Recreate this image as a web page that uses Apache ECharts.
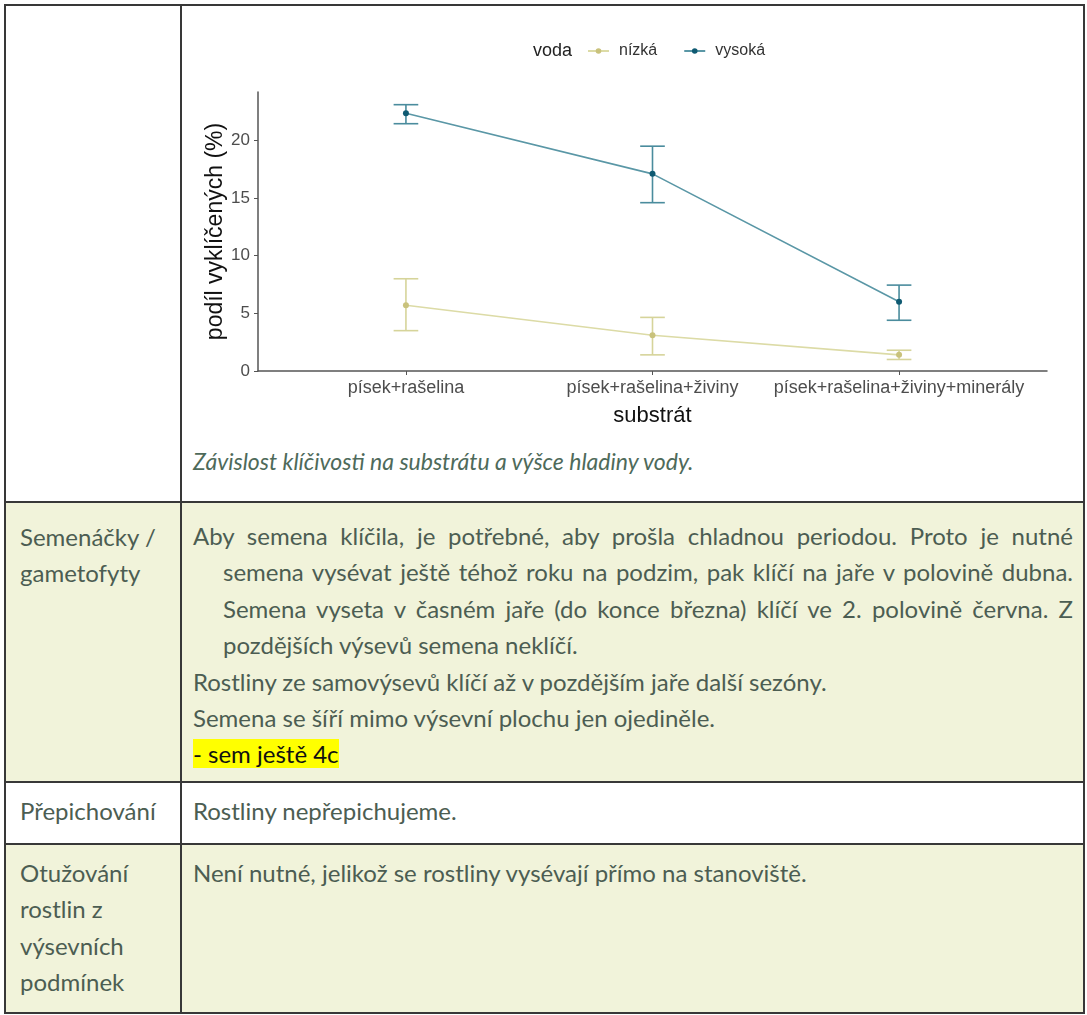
<!DOCTYPE html>
<html>
<head>
<meta charset="utf-8">
<script src="https://cdn.jsdelivr.net/npm/echarts@6/dist/echarts.min.js"></script>
<style>
    html, body {margin: 0; padding: 0; background: #fff;}
    body {width: 1087px; height: 1015px; position: relative; overflow: hidden;
        font-family: Lato, "Open Sans", sans-serif; color: #4c5d52;}
    .cell {position: absolute; box-sizing: border-box; border: 2px solid #383838;}
    .green {background: #f1f3da;}
    .txt {position: absolute; font-size: 24px; line-height: 36.3px; white-space: nowrap;}
    .just {text-align: justify; text-align-last: justify; white-space: normal;}
    .mark {background: #ffff00; color: #111;}
    #chart {position: absolute; left: 0; top: 0; width: 1087px; height: 450px; z-index: 2;}
</style>
</head>
<body>
<!-- table grid -->
<div class="cell" style="left:4px;top:4px;width:178px;height:499px;"></div>
<div class="cell" style="left:180px;top:4px;width:905px;height:499px;"></div>
<div class="cell green" style="left:4px;top:501px;width:178px;height:282px;"></div>
<div class="cell green" style="left:180px;top:501px;width:905px;height:282px;"></div>
<div class="cell" style="left:4px;top:781px;width:178px;height:64px;"></div>
<div class="cell" style="left:180px;top:781px;width:905px;height:64px;"></div>
<div class="cell green" style="left:4px;top:843px;width:178px;height:171px;"></div>
<div class="cell green" style="left:180px;top:843px;width:905px;height:171px;"></div>

<div id="chart"></div>

<div class="txt" style="left:193px;top:443px;font-size:23px;font-style:italic;color:#4e6a5a;">Závislost klíčivosti na substrátu a výšce hladiny vody.</div>

<div class="txt" style="left:20px;top:519px;">Semenáčky /<br>gametofyty</div>
<div class="txt just" style="left:193px;top:518px;width:880px;">Aby semena klíčila, je potřebné, aby prošla chladnou periodou. Proto je nutné</div>
<div class="txt just" style="left:223px;top:554px;width:850px;">semena vysévat ještě téhož roku na podzim, pak klíčí na jaře v polovině dubna.</div>
<div class="txt just" style="left:223px;top:591px;width:850px;">Semena vyseta v časném jaře (do konce března) klíčí ve 2. polovině června. Z</div>
<div class="txt" style="left:223px;top:627px;">pozdějších výsevů semena neklíčí.</div>
<div class="txt" style="left:193px;top:664px;">Rostliny ze samovýsevů klíčí až v pozdějším jaře další sezóny.</div>
<div class="txt" style="left:193px;top:700px;">Semena se šíří mimo výsevní plochu jen ojediněle.</div>
<div class="txt" style="left:193px;top:736px;"><span class="mark">- sem ještě 4c</span></div>

<div class="txt" style="left:20px;top:793px;">Přepichování</div>
<div class="txt" style="left:193px;top:793px;">Rostliny nepřepichujeme.</div>

<div class="txt" style="left:20px;top:855px;">Otužování<br>rostlin z<br>výsevních<br>podmínek</div>
<div class="txt" style="left:193px;top:855px;">Není nutné, jelikož se rostliny vysévají přímo na stanoviště.</div>

<script>
// substrate categories
const substrates = ['písek+rašelina', 'písek+rašelina+živiny', 'písek+rašelina+živiny+minerály'];
const waterLevels = ['nízká', 'vysoká'];
// low water: mean and error bar limits
const lowMean = [5.7, 3.1, 1.4];
const lowLo = [3.5, 1.4, 1.0];
const lowHi = [8.0, 4.65, 1.8];
// high water: mean and error bar limits
const highMean = [22.35, 17.1, 6.0];
const highLo = [21.45, 14.6, 4.4];
const highHi = [23.1, 19.5, 7.45];
const yTicks = [0, 5, 10, 15, 20];
const xTicks = [1, 2, 3];

const colLowLine = '#dcdba6', colLowPoint = '#c9c27c', colLowBar = '#d6d49a';
const colHighLine = '#5a97a6', colHighPoint = '#0f5a72', colHighBar = '#4a8c9d';

/**
 * mean points of one series
 */
function toPoints(mean) {
    let arr = [];
    for (let i = 0; i < mean.length; i++) {
        arr.push([xTicks[i], mean[i]]);
    }
    return arr;
}

/**
 * error bar rows [x, lo, hi]
 */
function toBars(lo, hi) {
    let arr = [];
    for (let i = 0; i < lo.length; i++) {
        arr.push([xTicks[i], lo[i], hi[i]]);
    }
    return arr;
}

function errorBar(name, data, color) {
    return {
        name: name,
        type: 'custom',
        data: data,
        encode: {x: 0, y: [1, 2]},
        z: 1,
        renderItem: function (params, api) {
            let x = api.value(0);
            let lo = api.coord([x, api.value(1)]);
            let hi = api.coord([x, api.value(2)]);
            let half = api.size([0.1, 0])[0] / 2;
            let style = {stroke: color, lineWidth: 1.6, fill: null};
            return {
                type: 'group',
                children: [
                    {type: 'line', shape: {x1: lo[0], y1: lo[1], x2: hi[0], y2: hi[1]}, style: style},
                    {type: 'line', shape: {x1: lo[0] - half, y1: lo[1], x2: lo[0] + half, y2: lo[1]}, style: style},
                    {type: 'line', shape: {x1: hi[0] - half, y1: hi[1], x2: hi[0] + half, y2: hi[1]}, style: style}
                ]
            };
        }
    };
}

function meanLine(name, data, lineColor, pointColor) {
    return {
        name: name,
        type: 'line',
        data: data,
        z: 2,
        symbol: 'circle',
        symbolSize: 6,
        itemStyle: {color: pointColor},
        lineStyle: {color: lineColor, width: 1.6}
    };
}

let chart = echarts.init(document.getElementById('chart'), null, {renderer: 'canvas'});
let option = {
    animation: false,
    textStyle: {fontFamily: '"Liberation Sans", Arial, sans-serif'},
    graphic: [{
        type: 'text',
        left: 533,
        top: 42,
        style: {text: 'voda', fontSize: 18, fill: '#222', fontFamily: '"Liberation Sans", Arial, sans-serif'}
    }],
    legend: {
        data: waterLevels,
        left: 582,
        top: 38,
        itemWidth: 21,
        itemHeight: 7,
        itemGap: 26,
        textStyle: {fontSize: 16, color: '#333', padding: [0, 0, 0, 5]}
    },
    grid: {left: 258, top: 92, width: 789, height: 279, containLabel: false},
    xAxis: {
        type: 'value',
        min: 0.4,
        max: 3.6,
        name: 'substrát',
        nameLocation: 'middle',
        nameGap: 34,
        nameTextStyle: {fontSize: 22, color: '#111'},
        splitLine: {show: false},
        axisLine: {show: true, lineStyle: {color: '#555', width: 1.5}},
        axisTick: {show: true, length: 4, customValues: xTicks, lineStyle: {color: '#555'}},
        axisLabel: {
            customValues: xTicks,
            fontSize: 18,
            color: '#4d4d4d',
            margin: 8,
            formatter: function (v) {
                return substrates[Math.round(v) - 1];
            }
        }
    },
    yAxis: {
        type: 'value',
        min: 0,
        max: 24.2,
        name: 'podíl vyklíčených (%)',
        nameLocation: 'middle',
        nameGap: 31,
        nameMoveOverlap: false,
        nameTextStyle: {fontSize: 23, color: '#111'},
        splitLine: {show: false},
        axisLine: {show: true, lineStyle: {color: '#555', width: 1.5}},
        axisTick: {show: true, length: 4, customValues: yTicks, lineStyle: {color: '#555'}},
        axisLabel: {customValues: yTicks, fontSize: 17, color: '#4d4d4d', margin: 8}
    },
    series: [
        errorBar('err-nízká', toBars(lowLo, lowHi), colLowBar),
        errorBar('err-vysoká', toBars(highLo, highHi), colHighBar),
        meanLine(waterLevels[0], toPoints(lowMean), colLowLine, colLowPoint),
        meanLine(waterLevels[1], toPoints(highMean), colHighLine, colHighPoint)
    ]
};
chart.setOption(option);
</script>
</body>
</html>
